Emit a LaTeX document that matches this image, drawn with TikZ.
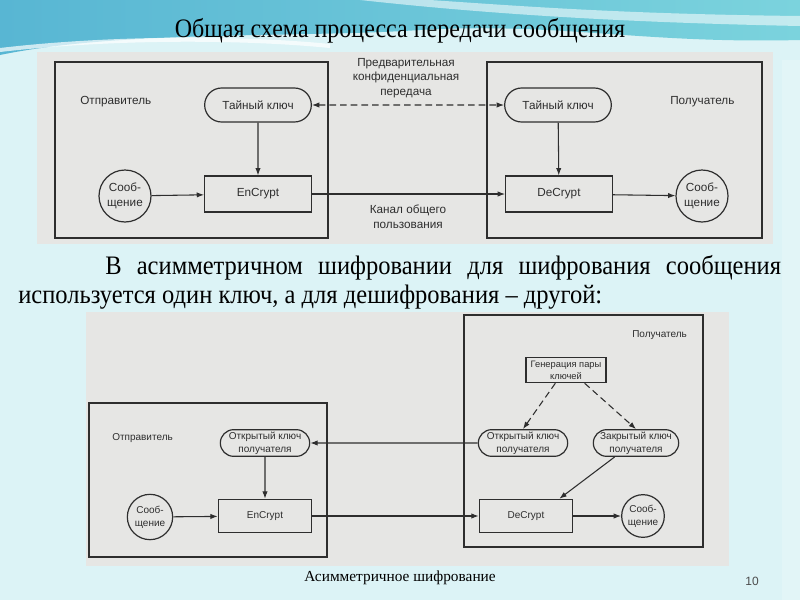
\documentclass[tikz,border=0pt]{standalone}
\usepackage{fontspec}
\setmainfont{Liberation Serif}
\newfontfamily\diagfont{Liberation Sans}
\usetikzlibrary{
	arrows.meta,
	positioning,
	shapes.misc
}
\definecolor{slidebg}{HTML}{DCF3F6}
\definecolor{waveA}{HTML}{58B6D3}
\definecolor{waveB}{HTML}{7BD3DD}
\definecolor{scan}{HTML}{E6E6E4}
\definecolor{ink}{HTML}{2E2E2E}

\begin{document}
\begin{tikzpicture}[
			x=0.75pt, y=-0.75pt,
			font=\diagfont\fontsize{8.8}{11}\selectfont,
			blok/.style={draw=ink, line width=0.9pt, minimum width=80pt, minimum height=27pt, inner sep=0pt, align=center, text=ink},
			kluch/.style={blok, rounded rectangle, minimum height=25.5pt},
			soob/.style={draw=ink, line width=0.9pt, circle, minimum size=39pt, inner sep=0pt, align=center, text=ink},
			mal/.style={font=\diagfont\fontsize{7.5}{9.5}\selectfont, text=ink},
			blok2/.style={blok, mal, minimum width=70pt, minimum height=25pt},
			kluch2/.style={blok2, rounded rectangle, minimum width=67pt, minimum height=20pt},
			soob2/.style={soob, mal, minimum size=34pt},
			ramka/.style={draw=ink, line width=0.9pt},
			metka/.style={text=ink, align=center, inner sep=0pt},
			slajd/.style={inner sep=0pt, font=\rmfamily\fontsize{20}{22}\selectfont},
			>={Latex[length=5.5pt, width=4pt]},
			fl/.style={->, draw=ink, line width=0.8pt},
			pk/.style={fl, dash pattern=on 5pt off 3pt}
		]
		\useasboundingbox (0,0) rectangle (800,600);

		% фон слайда
		\fill[slidebg] (0,0) rectangle (800,600);
		\shade[left color=waveA, right color=waveB] (0,0) -- (800,0) -- (800,40)
			.. controls (640,44) and (560,22) .. (420,30)
			.. controls (300,38) and (120,30) .. (0,55) -- cycle;
		\fill[white, opacity=0.55] (360,0) .. controls (470,12) and (600,22) .. (800,26)
			-- (800,16) .. controls (620,14) and (520,6) .. (430,0) -- cycle;
		\draw[white, line width=3pt, opacity=0.7] (0,50) .. controls (120,36) and (250,38) .. (330,46);
		\fill[white, opacity=0.18] (782,60) rectangle (800,600);

		\node[slajd] (zag) at (400,31) {\scalebox{0.9}[1]{Общая схема процесса передачи сообщения}};

		% симметричная схема
		\fill[scan] (37,52) rectangle (773,244);
		\draw[ramka] (55,62) rectangle (328,238);
		\draw[ramka] (487,62) rectangle (762,238);

		\node[metka, anchor=west] (otpr) at (80,102) {Отправитель};
		\node[metka, anchor=west] (poluch) at (670,102) {Получатель};
		\node[kluch] (skey) at (258,105) {Тайный ключ};
		\node[kluch] (rkey) at (558,105) {Тайный ключ};
		\node[blok] (enc) at (258,194) {EnCrypt};
		\node[blok] (dec) at (559,194) {DeCrypt};
		\node[soob] (smsg) at (125,196) {Сооб-\\щение};
		\node[soob] (rmsg) at (702,196) {Сооб-\\щение};
		\node[metka] (pered) at (406,78) {Предварительная\\конфиденциальная\\передача};
		\node[metka] (kanal) at (408,217) {Канал общего\\пользования};

		\draw[pk, <->] (skey) -- (rkey);
		\draw[fl] (skey) -- (enc);
		\draw[fl] (smsg) -- (enc);
		\draw[fl] (enc) -- (dec);
		\draw[fl] (rkey) -- (dec);
		\draw[fl] (dec) -- (rmsg);

		% текст
		\node[slajd, anchor=west] (abz1) at (105,268)
			{\scalebox{0.92}[1]{\makebox[551pt][s]{В асимметричном шифровании для шифрования сообщения}}};
		\node[slajd, anchor=west] (abz2) at (18,297)
			{\scalebox{0.92}[1]{используется один ключ, а для дешифрования – другой:}};

		% асимметричная схема
		\fill[scan] (86,312) rectangle (729,566);
		\draw[ramka] (89,403) rectangle (327,557);
		\draw[ramka] (464,315) rectangle (703,547);

		\node[metka, mal, anchor=west] (otpr2) at (112,438) {Отправитель};
		\node[metka, mal, anchor=west] (poluch2) at (632,335) {Получатель};
		\node[blok2, minimum width=60pt, minimum height=19pt, font=\diagfont\fontsize{7}{9}\selectfont] (gen) at (566,370) {Генерация пары\\ключей};
		\node[kluch2] (rpub) at (523,443) {Открытый ключ\\получателя};
		\node[kluch2, minimum width=64pt] (rpriv) at (636,443) {Закрытый ключ\\получателя};
		\node[kluch2] (spub) at (265,443) {Открытый ключ\\получателя};
		\node[blok2] (enc2) at (265,516) {EnCrypt};
		\node[blok2] (dec2) at (526,516) {DeCrypt};
		\node[soob2] (smsg2) at (150,517) {Сооб-\\щение};
		\node[soob2, minimum size=32pt] (rmsg2) at (643,516) {Сооб-\\щение};

		\draw[pk] ([xshift=-8pt]gen.south) -- (rpub.north);
		\draw[pk] ([xshift=14pt]gen.south) -- (rpriv.north);
		\draw[fl] ([xshift=6pt]rpriv.south west) -- ([xshift=25pt]dec2.north);
		\draw[fl] (rpub) -- (spub);
		\draw[fl] (spub) -- (enc2);
		\draw[fl] (smsg2) -- (enc2);
		\draw[fl] (enc2) -- (dec2);
		\draw[fl] (dec2) -- (rmsg2);

		\node[font=\rmfamily\fontsize{11.5}{13}\selectfont] (podp) at (400,578) {Асимметричное шифрование};
		\node[font=\diagfont\fontsize{9}{10}\selectfont, text=black!70] (nomer) at (752,581) {10};
	\end{tikzpicture}
\end{document}
